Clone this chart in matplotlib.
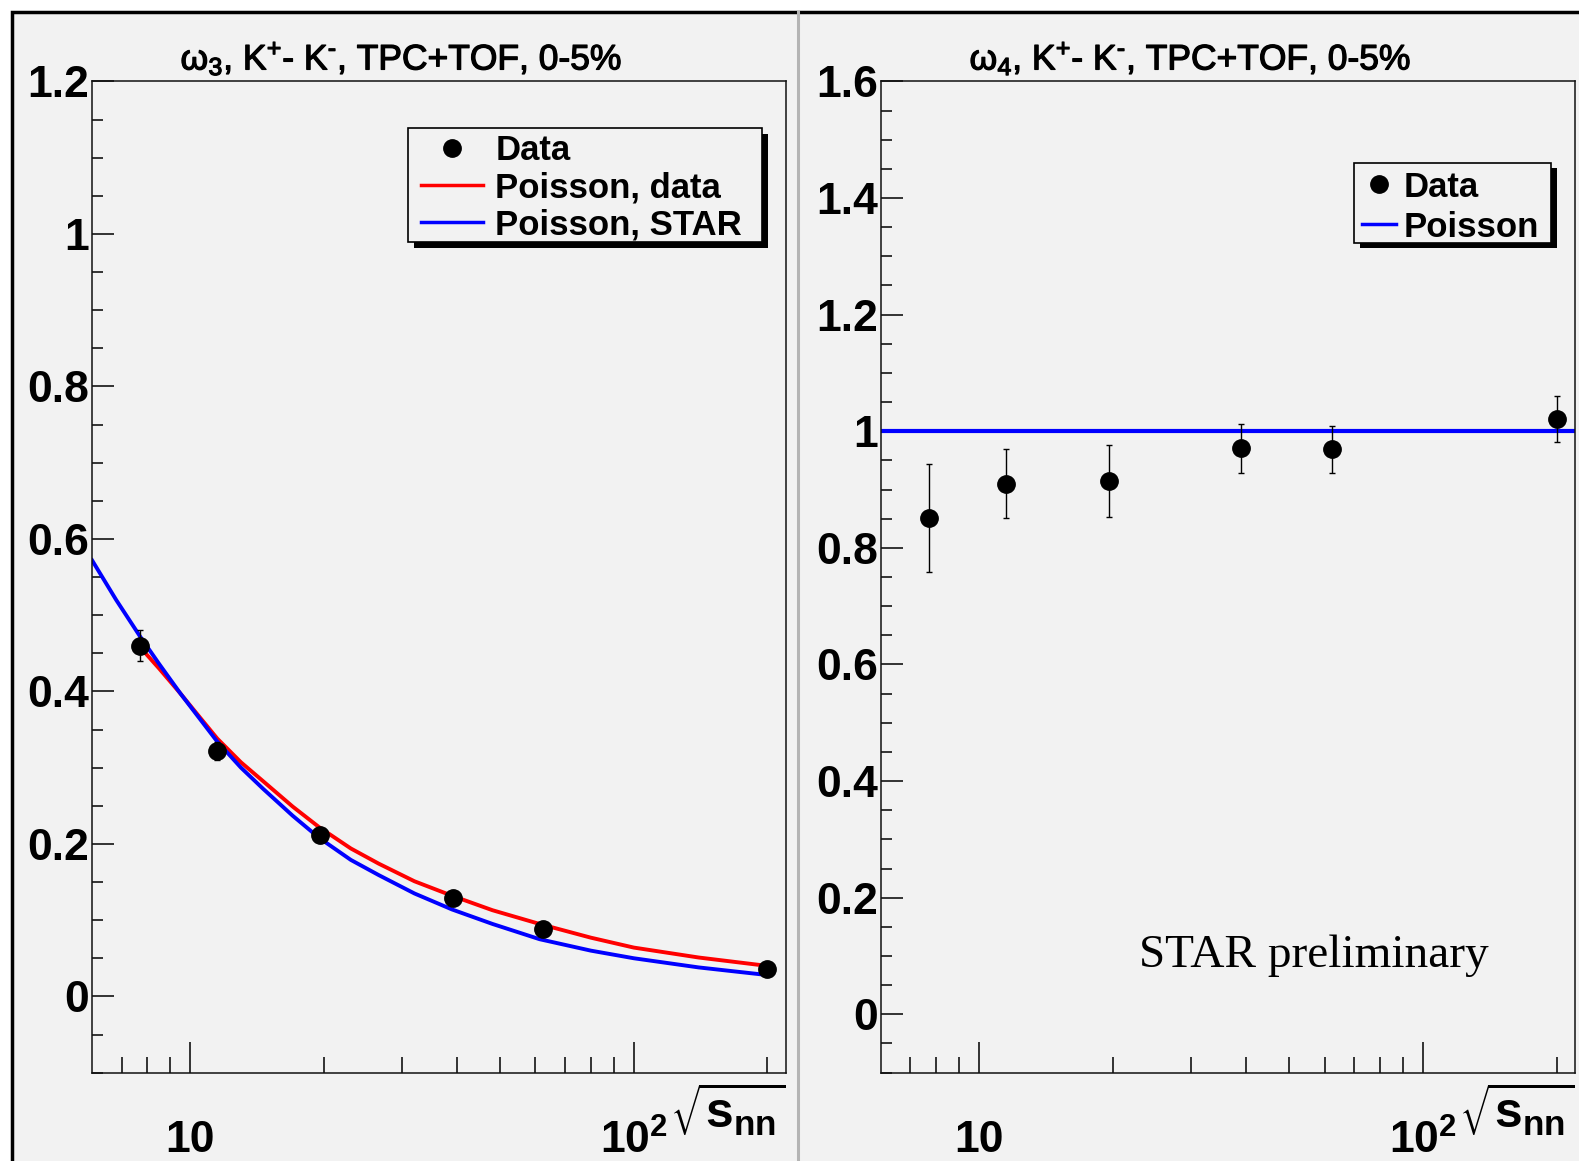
import matplotlib.pyplot as plt
import matplotlib.patheffects as pe
from matplotlib.lines import Line2D
from matplotlib.patches import Rectangle
from matplotlib.ticker import NullFormatter

# beam energies (sqrt(s_NN), GeV)
energies = [7.7, 11.5, 19.6, 39.0, 62.4, 200.0]

# omega_3 of net-kaons
w3_data = [0.460, 0.322, 0.212, 0.129, 0.088, 0.036]
w3_err = [0.020, 0.012, 0.006, 0.006, 0.005, 0.005]

# Poisson expectation from the data (red) and from STAR (blue)
poisson_data_x = [7.7, 8.5, 9.5, 10.5, 11.5, 13.0, 14.6, 17.0, 19.5, 23.0, 26.6,
                  32.0, 38.9, 48.0, 61.3, 80.0, 100.0, 140.0, 200.0]
poisson_data_y = [0.458, 0.430, 0.397, 0.366, 0.338, 0.307, 0.282, 0.249, 0.222,
                  0.194, 0.174, 0.151, 0.132, 0.113, 0.095, 0.077, 0.064, 0.051, 0.040]
poisson_star_x = [6.0, 6.8, 7.7, 8.5, 9.5, 10.5, 11.5, 13.0, 14.6, 17.0, 19.5, 23.0,
                  26.6, 32.0, 38.9, 48.0, 61.3, 80.0, 100.0, 140.0, 200.0]
poisson_star_y = [0.572, 0.520, 0.472, 0.436, 0.397, 0.364, 0.334, 0.300, 0.272,
                  0.237, 0.208, 0.179, 0.159, 0.135, 0.114, 0.095, 0.075, 0.060,
                  0.050, 0.038, 0.028]

# omega_4 of net-kaons
w4_data = [0.851, 0.910, 0.915, 0.971, 0.969, 1.021]
w4_err = [0.092, 0.059, 0.062, 0.042, 0.040, 0.039]
w4_poisson = 1.0

x_major = [10, 100]
x_major_labels = ["10", "$10^{2}$"]
x_minor = [7, 8, 9, 20, 30, 40, 50, 60, 70, 80, 90, 200]

left_yticks = [0.0, 0.2, 0.4, 0.6, 0.8, 1.0, 1.2]
left_ylabels = ["0", "0.2", "0.4", "0.6", "0.8", "1", "1.2"]
right_yticks = [0.0, 0.2, 0.4, 0.6, 0.8, 1.0, 1.2, 1.4, 1.6]
right_ylabels = ["0", "0.2", "0.4", "0.6", "0.8", "1", "1.2", "1.4", "1.6"]

BG = "#f2f2f2"
HYPHEN = "\u2010"

plt.rcParams["font.family"] = ["Liberation Sans", "DejaVu Sans"]
plt.rcParams["mathtext.default"] = "regular"


def style_axis(ax, ymax, yticks, ylabels):
    ax.set_facecolor(BG)
    ax.set_xscale("log")
    ax.set_xlim(6.0, 220.0)
    ax.set_ylim(-0.1, ymax)

    ax.set_xticks(x_major, x_major_labels, fontsize=32, fontweight="bold")
    ax.set_xticks(x_minor, minor=True)
    ax.xaxis.set_minor_formatter(NullFormatter())
    ax.set_yticks(yticks, ylabels, fontsize=32, fontweight="bold")
    minor_y = [i * 0.05 for i in range(-2, int(round(ymax / 0.05)) + 1)]
    ax.set_yticks([v for v in minor_y if round(v / 0.2, 6) % 1 != 0], minor=True)

    ax.tick_params(axis="x", which="major", direction="in", length=22, width=1.1,
                   pad=34, top=False)
    ax.tick_params(axis="x", which="minor", direction="in", length=11.5, width=1.1,
                   top=False)
    ax.tick_params(axis="y", which="major", direction="in", length=16, width=1.1,
                   pad=2, right=False)
    ax.tick_params(axis="y", which="minor", direction="in", length=8, width=1.1,
                   right=False)
    for spine in ax.spines.values():
        spine.set_linewidth(1.1)
        spine.set_color("#111111")

    ax.text(1.0, -0.008, r"$\sqrt{s_{nn}}$", transform=ax.transAxes, ha="right",
            va="top", fontsize=36, fontweight="bold")


def legend_box(ax, x0, y0, x1, y1, dx, dy):
    # ROOT style box with a solid black drop shadow
    ax.add_patch(Rectangle((x0 + dx, y0 - dy), x1 - x0, y1 - y0,
                           transform=ax.transAxes, facecolor="black",
                           edgecolor="none", clip_on=False, zorder=4))
    ax.add_patch(Rectangle((x0, y0), x1 - x0, y1 - y0, transform=ax.transAxes,
                           facecolor=BG, edgecolor="black", linewidth=1.2,
                           clip_on=False, zorder=4.5))


fig = plt.figure(figsize=(15.79, 11.61), dpi=100, facecolor="white")
fig.add_artist(Rectangle((0.0073, -0.05), 1.2, 1.0397, transform=fig.transFigure,
                         facecolor=BG, edgecolor="black", linewidth=2.5, zorder=-5))
fig.add_artist(Line2D([0.5054, 0.5054], [0.0, 0.9897], transform=fig.transFigure,
                      color="#b4b4b4", linewidth=2.2, zorder=-4))

ax_l = fig.add_axes([0.0583, 0.0761, 0.4393, 0.8538])
ax_r = fig.add_axes([0.5577, 0.0761, 0.4398, 0.8538])

title_fx = [pe.withStroke(linewidth=0.9, foreground="black")]
legend_props = dict(family="Liberation Sans", weight="bold", size=25)
marker_size = 12.5

# left: omega_3
style_axis(ax_l, 1.2, left_yticks, left_ylabels)
ax_l.plot(poisson_data_x, poisson_data_y, color="#ff0000", linewidth=2.8, zorder=2)
ax_l.plot(poisson_star_x, poisson_star_y, color="#0000ff", linewidth=2.8, zorder=2)
ax_l.errorbar(energies, w3_data, yerr=w3_err, fmt="o", color="black", ms=marker_size,
              elinewidth=1.0, capsize=2.2, capthick=1.0, zorder=3)

fig.text(0.254, 0.940, f"ω$_{{3}}$, K$^{{+}}$- K$^{{{HYPHEN}}}$, TPC+TOF, 0-5%",
         ha="center", va="baseline", fontsize=25.5, path_effects=title_fx)

legend_box(ax_l, 0.4555, 0.8376, 0.9658, 0.9531, 0.0087, 0.0061)
handles_l = [
    Line2D([], [], marker="o", linestyle="none", color="black", ms=marker_size),
    Line2D([], [], color="#ff0000", linewidth=2.5),
    Line2D([], [], color="#0000ff", linewidth=2.5),
]
ax_l.legend(handles_l, ["Data", "Poisson, data", "Poisson, STAR"],
            loc="upper left", bbox_to_anchor=(0.4743, 0.9465), borderaxespad=0,
            borderpad=0, prop=legend_props, handlelength=1.78, handletextpad=0.36,
            labelspacing=0.11, frameon=False, numpoints=1)

# right: omega_4
style_axis(ax_r, 1.6, right_yticks, right_ylabels)
ax_r.axhline(w4_poisson, color="#0000ff", linewidth=3.0, zorder=2)
ax_r.errorbar(energies, w4_data, yerr=w4_err, fmt="o", color="black", ms=marker_size,
              elinewidth=1.0, capsize=2.2, capthick=1.0, zorder=3)

fig.text(0.7537, 0.940, f"ω$_{{4}}$, K$^{{+}}$- K$^{{{HYPHEN}}}$, TPC+TOF, 0-5%",
         ha="center", va="baseline", fontsize=25.5, path_effects=title_fx)

ax_r.text(0.3727, 0.107, "STAR preliminary", transform=ax_r.transAxes,
          ha="left", va="baseline", fontsize=34, family="Liberation Serif")

legend_box(ax_r, 0.6817, 0.8374, 0.9650, 0.9181, 0.0086, 0.0057)
handles_r = [
    Line2D([], [], marker="o", linestyle="none", color="black", ms=marker_size),
    Line2D([], [], color="#0000ff", linewidth=2.5),
]
ax_r.legend(handles_r, ["Data", "Poisson"],
            loc="upper left", bbox_to_anchor=(0.6928, 0.9100), borderaxespad=0,
            borderpad=0, prop=legend_props, handlelength=1.0, handletextpad=0.21,
            labelspacing=0.2, frameon=False, numpoints=1)

fig.savefig("out.png", dpi=100, facecolor="white")
